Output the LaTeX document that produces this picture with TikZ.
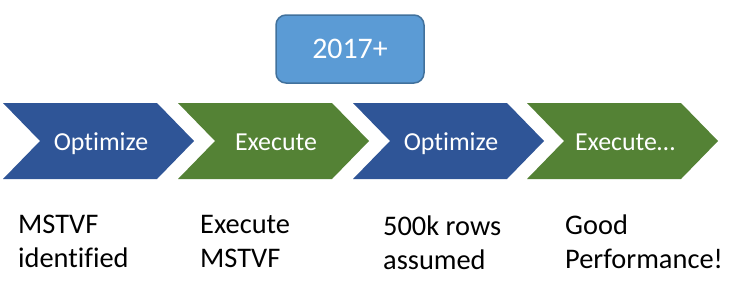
\documentclass[tikz,border=0pt]{standalone}
\usepackage{fontspec}
\setmainfont{Carlito}[Ligatures=NoCommon]
\usetikzlibrary{positioning, calc}
\definecolor{optblue}{HTML}{2F5597}
\definecolor{exegreen}{HTML}{548235}
\definecolor{yearblue}{HTML}{5B9BD5}
\definecolor{yearedge}{HTML}{41719C}

\begin{document}
\begin{tikzpicture}[
		x=1bp, y=-1bp,
		yearbox/.style={
			draw=yearedge, line width=1.5bp, fill=yearblue, rounded corners=10bp,
			minimum width=148bp, minimum height=68bp, text=white,
			font=\fontsize{30}{34}\selectfont
		},
		steptext/.style={text=white, font=\fontsize{26}{30}\selectfont, inner sep=0pt},
		notetext/.style={align=left, text=black, inner sep=0pt,
			font=\fontsize{28.5}{34}\selectfont}
		]
		
		\useasboundingbox (0,0) rectangle (742,283);
		
		% ==========================================
		% Year box
		% ==========================================
		\node[yearbox] (year) at (350,49) {2017+};
		
		% ==========================================
		% Chevrons: left edge / colour / label / name
		% ==========================================
		\foreach \L/\col/\txt/\nm in {3/optblue/Optimize/opt1, 178/exegreen/Execute/exe1,
			353/optblue/Optimize/opt2, 527/exegreen/Execute…/exe2} {
			\fill[\col] (\L,103) -- ++(154,0) -- ++(37,38) -- ++(-37,38)
			-- ++(-154,0) -- ++(37,-38) -- cycle;
			\node[steptext, anchor=base] (\nm) at (\L+98,150) {\txt};
		}
		
		% ==========================================
		% Notes below (anchor = baseline of last line)
		% ==========================================
		\node[notetext, anchor=base west] (note1) at (18,267) {MSTVF\\identified};
		\node[notetext, anchor=base west] (note2) at (200,267) {Execute\\MSTVF};
		\node[notetext, anchor=base west] (note3) at (383,269) {500k rows\\assumed};
		\node[notetext, anchor=base west] (note4) at (565,268) {Good\\Performance!};
		
	\end{tikzpicture}
\end{document}
